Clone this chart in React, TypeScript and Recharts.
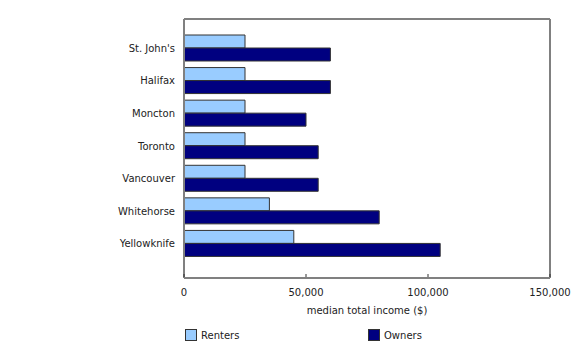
import { BarChart, Bar, XAxis, YAxis, Legend, CartesianGrid } from 'recharts';

const cities = ['St. John\'s', 'Halifax', 'Moncton', 'Toronto', 'Vancouver', 'Whitehorse', 'Yellowknife'];
const renters = [25000, 25000, 25000, 25000, 25000, 35000, 45000];
const owners = [60000, 60000, 50000, 55000, 55000, 80000, 105000];
const xTicks = [0, 50000, 100000, 150000];

const data = cities.map((city, i) => ({ city, renters: renters[i], owners: owners[i] }));

const font = '"DejaVu Sans", Verdana, sans-serif';
const frame = '#808080';
const textColor = '#222';

const fmt = (v: number) => v.toLocaleString('en-US');

function XTick(props: any) {
  const { x, y, payload } = props;
  return (
    <g>
      <line x1={x} x2={x} y1={y - 4} y2={y - 1} stroke="#333" strokeWidth={1} />
      <text x={x} y={y + 18} textAnchor="middle" fontSize={10} fontFamily={font} fill={textColor}>
        {fmt(payload.value)}
      </text>
    </g>
  );
}

function LegendBox() {
  const items = [
    { label: 'Renters', color: '#99ccff', left: 185 },
    { label: 'Owners', color: '#000080', left: 368 },
  ];
  return (
    <div style={{ position: 'relative', height: 27, width: 580, fontFamily: font, fontSize: 10, color: textColor }}>
      {items.map((it) => (
        <div key={it.label} style={{ position: 'absolute', left: it.left, top: 11, display: 'flex', alignItems: 'center' }}>
          <span style={{ display: 'inline-block', width: 10, height: 10, background: it.color, border: '1px solid #333', marginRight: 4 }} />
          <span>{it.label}</span>
        </div>
      ))}
    </div>
  );
}

export default function App() {
  return (
    <div style={{ position: 'absolute', left: 0, top: 0, width: 580, height: 345, background: '#fff' }}>
      <BarChart
        width={580}
        height={345}
        data={data}
        layout="vertical"
        margin={{ top: 19, right: 30, bottom: 0, left: 0 }}
        barCategoryGap={3}
        barGap={0}
      >
        {/* top and right edges of the plot frame */}
        <CartesianGrid
          stroke={frame}
          strokeWidth={2}
          horizontalCoordinatesGenerator={({ offset }: any) => [offset.top]}
          verticalCoordinatesGenerator={({ offset }: any) => [offset.left + offset.width]}
        />
        <XAxis
          type="number"
          domain={[0, 150000]}
          ticks={xTicks}
          height={40}
          tickSize={0}
          tickMargin={0}
          tickLine={false}
          tick={<XTick />}
          axisLine={{ stroke: frame, strokeWidth: 2 }}
          label={{ value: 'median total income ($)', position: 'insideBottom', offset: 4, fontSize: 10, fontFamily: font, fill: textColor }}
        />
        <YAxis
          type="category"
          dataKey="city"
          width={184}
          padding={{ top: 13, bottom: 18 }}
          tickLine={false}
          tickSize={0}
          tickMargin={9}
          axisLine={{ stroke: frame, strokeWidth: 2 }}
          tick={{ fontSize: 10, fontFamily: font, fill: textColor }}
        />
        <Legend verticalAlign="bottom" content={<LegendBox />} wrapperStyle={{ left: 0, width: 580 }} />
        <Bar dataKey="renters" name="Renters" fill="#99ccff" stroke="#333" strokeWidth={1} barSize={13} isAnimationActive={false} />
        <Bar dataKey="owners" name="Owners" fill="#000080" stroke="#333" strokeWidth={1} barSize={13} isAnimationActive={false} />
      </BarChart>
    </div>
  );
}
